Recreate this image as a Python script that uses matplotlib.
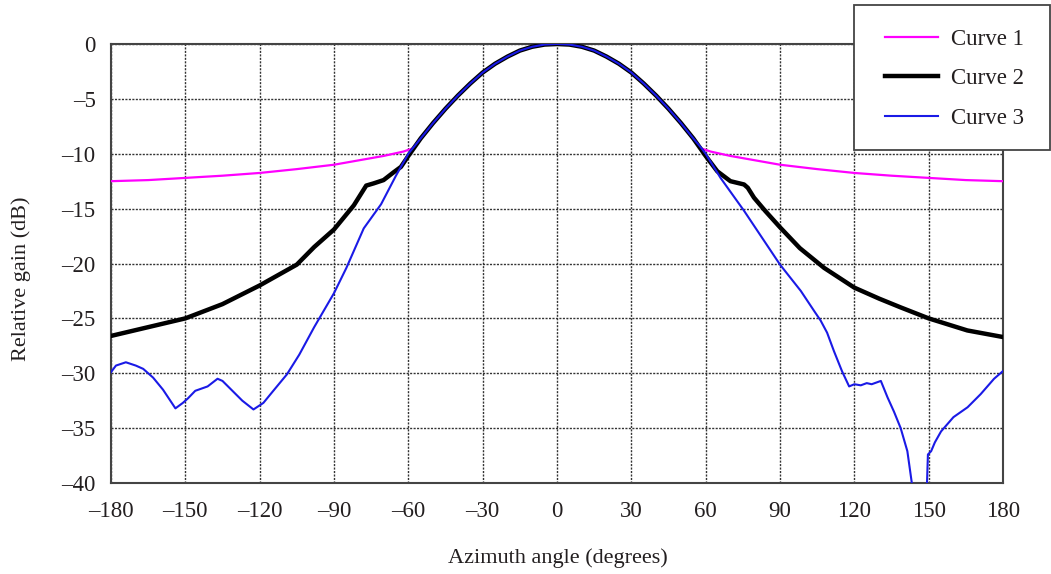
import matplotlib
matplotlib.use("Agg")
import matplotlib.pyplot as plt
from matplotlib.patches import Rectangle

# Azimuth angles (degrees) and relative gains (dB)
angle_1 = [-180, -165, -150, -135, -120, -105, -90, -80, -70, -62, -58, -55, -50, -45, -40, -35, -30, -25, -20, -15, -10, -5, 0,
           5, 10, 15, 20, 25, 30, 35, 40, 45, 50, 55, 58, 62, 70, 80, 90, 105, 120, 135, 150, 165, 180]
gain_1 = [-12.5, -12.4, -12.2, -12.0, -11.75, -11.4, -11.0, -10.6, -10.2, -9.8, -9.5, -8.6, -7.2, -5.9, -4.7, -3.6, -2.6, -1.8, -1.15, -0.6, -0.25, -0.05, 0.0,
          -0.05, -0.25, -0.6, -1.15, -1.8, -2.6, -3.6, -4.7, -5.9, -7.2, -8.6, -9.5, -9.8, -10.2, -10.6, -11.0, -11.4, -11.75, -12.0, -12.2, -12.4, -12.5]

angle_2 = [-180, -165, -150, -135, -120, -105, -98, -90, -82, -77, -74, -70, -66, -63, -60, -55, -50, -45, -40, -35, -30, -25, -20, -15, -10, -5, 0,
           5, 10, 15, 20, 25, 30, 35, 40, 45, 50, 55, 60, 64.7, 70, 75.5, 77, 79.5, 84, 90, 98, 107.8, 120, 130, 138.7, 150, 165.6, 180]
gain_2 = [-26.6, -25.8, -25.0, -23.7, -22.0, -20.1, -18.5, -16.9, -14.7, -12.9, -12.7, -12.4, -11.7, -11.2, -10.2, -8.6, -7.2, -5.9, -4.7, -3.6, -2.6, -1.8, -1.15, -0.6, -0.25, -0.05, 0.0,
          -0.05, -0.25, -0.6, -1.15, -1.8, -2.6, -3.6, -4.7, -5.9, -7.2, -8.6, -10.2, -11.6, -12.5, -12.8, -13.1, -14.0, -15.2, -16.7, -18.6, -20.4, -22.2, -23.2, -24.0, -25.0, -26.1, -26.7]

angle_3 = [-180, -178, -174, -170, -167, -163, -159, -154, -151, -149, -146, -141, -137, -135, -131, -127, -122.5,
           -118.5, -114.5, -109, -104, -98, -90, -85, -78, -71, -65, -60, -55, -50, -45, -40, -35, -30, -25, -20, -15, -10, -5, 0,
           5, 10, 15, 20, 25, 30, 35, 40, 45, 50, 55, 58, 60, 66, 75.5, 90, 98.4, 104, 106.4, 109, 111.8, 115, 117.9, 120, 122.6, 125,
           127, 130.7, 133.4, 136, 138.7, 141.4, 143.2, 144.5, 146, 147, 149.3, 149.7, 151, 152.5, 155, 160,
           165.7, 171, 176.4, 180]
gain_3 = [-29.9, -29.3, -29.0, -29.3, -29.6, -30.4, -31.5, -33.2, -32.7, -32.3, -31.6, -31.2, -30.5, -30.7, -31.6, -32.5, -33.3,
          -32.7, -31.6, -30.1, -28.3, -25.8, -22.7, -20.4, -16.8, -14.6, -12.0, -10.0, -8.6, -7.2, -5.9, -4.7, -3.6, -2.6, -1.8, -1.15, -0.6, -0.25, -0.05, 0.0,
          -0.05, -0.25, -0.6, -1.15, -1.8, -2.6, -3.6, -4.7, -5.9, -7.2, -8.6, -9.4, -10.0, -12.2, -15.2, -20.1, -22.5, -24.4, -25.2, -26.3, -28.0, -29.8, -31.2, -31.0, -31.1, -30.9,
          -31.0, -30.7, -32.2, -33.5, -35.0, -37.1, -40.0, -41.0, -40.6, -41.0, -40.2, -37.4, -37.1, -36.3, -35.3, -34.0,
          -33.1, -31.9, -30.5, -29.8]

labels = ["Curve 1", "Curve 2", "Curve 3"]
x_ticks = [-180, -150, -120, -90, -60, -30, 0, 30, 60, 90, 120, 150, 180]
y_ticks = [0, -5, -10, -15, -20, -25, -30, -35, -40]

plt.rcParams['font.family'] = ['Liberation Serif', 'DejaVu Serif']
text_color = "#231f20"

fig = plt.figure(figsize=(10.51, 5.74), dpi=100)
W, H = 1051, 574
ax = fig.add_axes([111 / W, 1 - 483 / H, (1003 - 111) / W, (483 - 44) / H])

l1, = ax.plot(angle_1, gain_1, color="#ff00ff", lw=1.6, zorder=3)
l2, = ax.plot(angle_2, gain_2, color="black", lw=3.2, zorder=4)
l3, = ax.plot(angle_3, gain_3, color="#1a1ae6", lw=1.5, zorder=5)

ax.set_xlim(-180, 180)
ax.set_ylim(-40, 0)
ax.set_xticks(x_ticks)
ax.set_yticks(y_ticks)
ax.set_xticklabels([f"{t}".replace("-", "\u2013") for t in x_ticks])
ax.set_yticklabels([f"{t}".replace("-", "\u2013") for t in y_ticks])
ax.tick_params(length=0, labelsize=16.5, colors=text_color, pad=13)
ax.tick_params(axis="y", pad=11)
ax.grid(True, color="#333333", linestyle=(0, (1.5, 1.0)), lw=1.0)
for s in ax.spines.values():
    s.set_color("#444444")
    s.set_linewidth(1.5)

fig.text(558 / W, 1 - 558 / H, "Azimuth angle (degrees)", ha="center", va="center",
         fontsize=16, color=text_color)
fig.text(21 / W, 1 - 279 / H, "Relative gain (dB)", ha="center", va="center",
         rotation=90, fontsize=16, color=text_color)

# legend box sits partly outside the axes, top-right corner
fig.patches.append(Rectangle((854 / W, 1 - 150 / H), 196 / W, 145 / H, transform=fig.transFigure,
                             facecolor="white", edgecolor="#444444", lw=1.3, zorder=6))
leg = fig.legend([l1, l2, l3], labels, loc="upper left", bbox_to_anchor=(885 / W, 1 - 29 / H),
                 frameon=False, borderaxespad=0, borderpad=0, fontsize=16.5,
                 handlelength=2.3, handletextpad=0.6, labelspacing=0.8)
leg.set_zorder(7)
for t in leg.get_texts():
    t.set_color(text_color)

fig.savefig("out.png", dpi=100)
